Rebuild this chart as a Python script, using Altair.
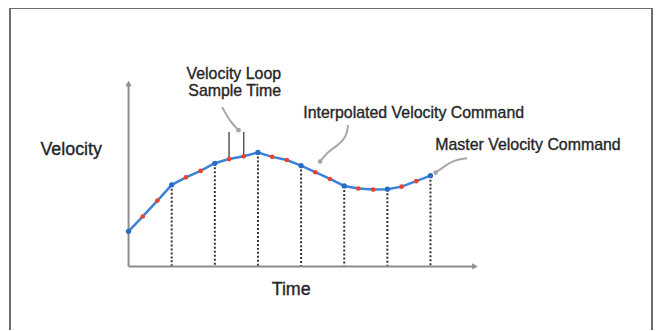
import altair as alt
import pandas as pd

# Master velocity command samples (time units, velocity units)
t_master = [0, 1, 2, 3, 4, 5, 6, 7]
v_master = [1.92, 4.46, 5.64, 6.23, 5.51, 4.40, 4.22, 4.96]

# Interpolated velocity command samples
t_interp = [0.33, 0.67, 1.33, 1.67, 2.33, 2.67, 3.33, 3.67, 4.33, 4.67, 5.33, 5.67, 6.33, 6.67]
v_interp = [2.73, 3.60, 4.87, 5.22, 5.87, 6.02, 5.99, 5.82, 5.15, 4.78, 4.26, 4.20, 4.36, 4.66]

# Velocity loop sample time markers
t_sample = [2.33, 2.67]
v_sample_lo = [5.87, 6.02]
v_sample_hi = [7.35, 7.35]

# Axis extents
x_axis_end = 8.03
y_axis_end = 10.0

# Annotation leader curves
lead1_t = [2.17, 2.36, 2.55]
lead1_v = [8.71, 7.90, 7.45]
lead2_t = [5.09, 5.05, 4.86, 4.62, 4.44]
lead2_v = [7.72, 7.08, 6.63, 6.27, 5.73]
lead3_t = [7.85, 7.54, 7.31, 7.12]
lead3_v = [5.91, 5.82, 5.45, 5.13]

# Labels
lab_text = ["Velocity Loop", "Sample Time", "Interpolated Velocity Command", "Master Velocity Command"]
lab_t = [2.44, 2.46, 4.05, 7.11]
lab_v = [10.54, 9.57, 8.37, 6.63]
lab_align = ["center", "center", "left", "left"]

FONT = "Liberation Sans"
TXT = "#262626"
GREY = "#8c8c8c"

xs = alt.Scale(domain=[0, 7], range=[116.3, 420.1])
ys = alt.Scale(domain=[0, 10], range=[254, 70])

def X(f="t"):
    return alt.X(f"{f}:Q", scale=xs, axis=None)

def Y(f="v"):
    return alt.Y(f"{f}:Q", scale=ys, axis=None)

master = pd.DataFrame({"t": t_master, "v": v_master})
interp = pd.DataFrame({"t": t_interp, "v": v_interp})
allpts = pd.concat([master, interp]).sort_values("t").reset_index(drop=True)
drops = master[master["t"] > 0].assign(z=0.0)

axes = pd.DataFrame({
    "t": [0, 0], "t2": [x_axis_end, 0],
    "v": [0, 0], "v2": [0, y_axis_end],
})
heads = pd.DataFrame({"t": [x_axis_end, 0], "v": [0, y_axis_end], "shape": ["triangle-right", "triangle-up"]})
samples = pd.DataFrame({"t": t_sample, "v": v_sample_lo, "v2": v_sample_hi})

leads = pd.concat([
    pd.DataFrame({"t": lead1_t, "v": lead1_v, "g": "a", "o": range(len(lead1_t))}),
    pd.DataFrame({"t": lead2_t, "v": lead2_v, "g": "b", "o": range(len(lead2_t))}),
    pd.DataFrame({"t": lead3_t, "v": lead3_v, "g": "c", "o": range(len(lead3_t))}),
])
lead_ends = pd.DataFrame({"t": [lead1_t[-1], lead2_t[-1], lead3_t[-1]],
                          "v": [lead1_v[-1], lead2_v[-1], lead3_v[-1]]})

labels = pd.DataFrame({"txt": lab_text, "t": lab_t, "v": lab_v, "al": lab_align})
one = pd.DataFrame({"a": [0]})

FRAME = "#6e6e6e"
frame_left = alt.Chart(one).mark_rule(color=FRAME, strokeWidth=2).encode(
    x=alt.value(-3), y=alt.value(-6), y2=alt.value(318))
frame_right = alt.Chart(one).mark_rule(color=FRAME, strokeWidth=2).encode(
    x=alt.value(643), y=alt.value(-6), y2=alt.value(318))
frame_top = alt.Chart(one).mark_rule(color=FRAME, strokeWidth=2).encode(
    x=alt.value(-4), x2=alt.value(644), y=alt.value(-6))

axis_rules = alt.Chart(axes).mark_rule(color=GREY, strokeWidth=2).encode(
    x=X(), x2="t2:Q", y=Y(), y2="v2:Q")
axis_heads = alt.Chart(heads[heads["shape"] == "triangle-right"]).mark_point(
    shape="triangle-right", filled=True, color=GREY, size=40, opacity=1).encode(x=X(), y=Y())
axis_heads2 = alt.Chart(heads[heads["shape"] == "triangle-up"]).mark_point(
    shape="triangle-up", filled=True, color=GREY, size=40, opacity=1).encode(x=X(), y=Y())

drop_lines = alt.Chart(drops).mark_rule(color="#333333", strokeWidth=2, strokeDash=[2, 2]).encode(
    x=X(), y=Y(), y2="z:Q")

sample_lines = alt.Chart(samples).mark_rule(color="#555555", strokeWidth=1.5).encode(
    x=X(), y=Y(), y2="v2:Q")

curve = alt.Chart(allpts).mark_line(color="#3d82d8", strokeWidth=2.5).encode(
    x=X(), y=Y(), order="t:Q")

red_pts = alt.Chart(interp).mark_circle(color="#e8432d", size=22, opacity=1).encode(x=X(), y=Y())
blue_pts = alt.Chart(master).mark_circle(color="#2a6cc4", size=28, opacity=1).encode(x=X(), y=Y())

lead_lines = alt.Chart(leads).mark_line(color="#a6a6a6", strokeWidth=2, interpolate="basis").encode(
    x=X(), y=Y(), detail="g:N", order="o:Q")
lead_heads = alt.Chart(lead_ends).mark_circle(color="#a6a6a6", size=22, opacity=1).encode(x=X(), y=Y())

lab_c = alt.Chart(labels[labels["al"] == "center"]).mark_text(
    font=FONT, fontSize=16, color=TXT, stroke=TXT, strokeWidth=0.35,
    align="center", baseline="middle").encode(x=X(), y=Y(), text="txt:N")
lab_l = alt.Chart(labels[labels["al"] == "left"]).mark_text(
    font=FONT, fontSize=16, color=TXT, stroke=TXT, strokeWidth=0.35,
    align="left", baseline="middle").encode(x=X(), y=Y(), text="txt:N")

ax_titles = pd.DataFrame({"txt": ["Velocity", "Time"], "t": [-1.33, 3.77], "v": [6.36, -1.30]})
titles = alt.Chart(ax_titles).mark_text(
    font=FONT, fontSize=18, color=TXT, stroke=TXT, strokeWidth=0.35,
    align="center", baseline="middle").encode(x=X(), y=Y(), text="txt:N")

chart = alt.layer(
    frame_left, frame_right, frame_top,
    drop_lines, axis_rules, axis_heads, axis_heads2,
    sample_lines, lead_lines, lead_heads,
    curve, red_pts, blue_pts,
    lab_c, lab_l, titles,
).properties(
    width=644, height=318,
    autosize=alt.AutoSizeParams(type="none"),
    padding={"left": 5, "top": 5, "right": 0, "bottom": 0},
    background="white",
).configure_view(stroke=None)

chart.save("out.html", embed_options={"renderer": "svg", "actions": False})
